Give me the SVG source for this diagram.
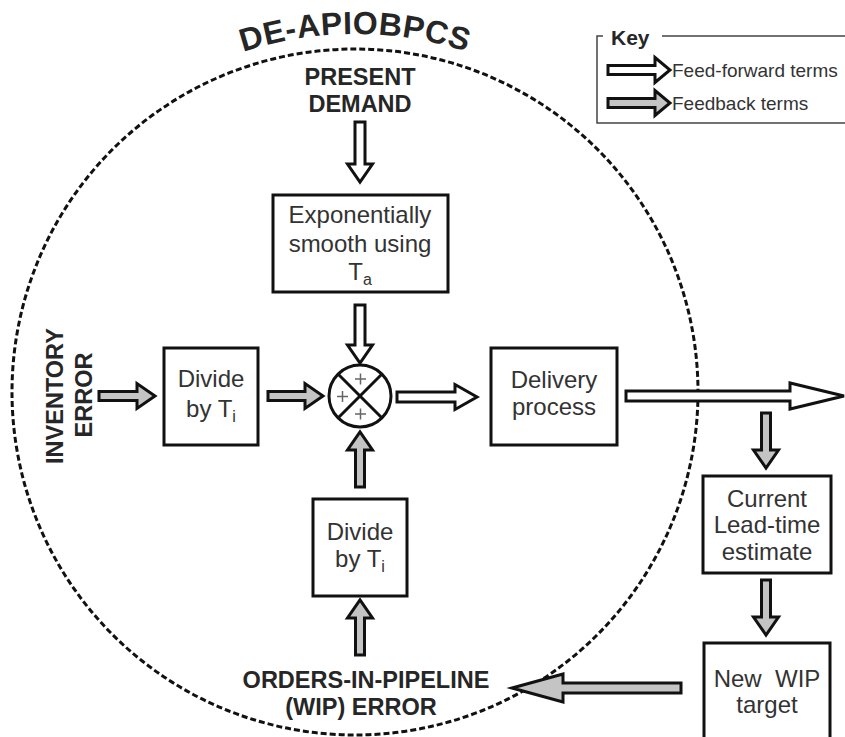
<svg xmlns="http://www.w3.org/2000/svg" width="845" height="737" viewBox="0 0 845 737">
  <defs>
    <style>
      .box { fill: #ffffff; stroke: #111111; stroke-width: 3; }
      .ff { fill: #ffffff; stroke: #111111; stroke-width: 3; stroke-linejoin: miter; }
      .fb { fill: #c4c4c4; stroke: #111111; stroke-width: 3; stroke-linejoin: miter; }
      .lbl { font-family: "Liberation Sans", Arial, sans-serif; font-size: 24px; fill: #333333; text-anchor: middle; }
      .sub { font-size: 16px; }
      .cap { font-family: "Liberation Sans", Arial, sans-serif; font-size: 23.5px; font-weight: bold; fill: #262626; text-anchor: middle; }
      .key { font-family: "Liberation Sans", Arial, sans-serif; font-size: 19px; fill: #333333; }
      .plus { stroke: #666666; stroke-width: 1.5; fill: none; }
    </style>
    <path id="titleArc" d="M -3,392 A 358,358 0 0 1 713,392"/>
  </defs>

  <rect width="845" height="737" fill="#ffffff"/>

  <!-- system boundary -->
  <circle cx="355" cy="392" r="343" fill="none" stroke="#111111" stroke-width="3" stroke-dasharray="6 3"/>
  <text font-family="Liberation Sans, Arial, sans-serif" font-size="32" font-weight="bold" fill="#262626" letter-spacing="0.5">
    <textPath href="#titleArc" startOffset="50%" text-anchor="middle">DE-APIOBPCS</textPath>
  </text>

  <!-- key -->
  <g id="key">
    <path d="M603,36 H597 V123 H845 M662,36 H845" fill="none" stroke="#444444" stroke-width="1.5"/>
    <text x="611" y="45" font-family="Liberation Sans, Arial, sans-serif" font-size="21" font-weight="bold" fill="#262626">Key</text>
    <path class="ff" d="M0,-4.5 H47 V-12.5 L62,0 L47,12.5 V4.5 H0 Z" transform="translate(608,70)"/>
    <text class="key" x="672" y="77">Feed-forward terms</text>
    <path class="fb" d="M0,-4.5 H47 V-12.5 L62,0 L47,12.5 V4.5 H0 Z" transform="translate(608,103)"/>
    <text class="key" x="672" y="110">Feedback terms</text>
  </g>

  <!-- external labels -->
  <g id="present-demand">
    <text class="cap" x="360" y="85">PRESENT</text>
    <text class="cap" x="360" y="112">DEMAND</text>
  </g>
  <g id="inventory-error">
    <text class="cap" transform="translate(63,396) rotate(-90)">INVENTORY</text>
    <text class="cap" transform="translate(92,395) rotate(-90)">ERROR</text>
  </g>
  <g id="wip-error">
    <text class="cap" x="366" y="688">ORDERS-IN-PIPELINE</text>
    <text class="cap" x="361" y="715">(WIP) ERROR</text>
  </g>

  <!-- blocks -->
  <g id="smooth">
    <rect class="box" x="273" y="195" width="175" height="97"/>
    <text class="lbl" x="360" y="223">Exponentially</text>
    <text class="lbl" x="360" y="252">smooth using</text>
    <text class="lbl" x="360" y="280">T<tspan class="sub" dy="5">a</tspan></text>
  </g>
  <g id="divide-inv">
    <rect class="box" x="164" y="348" width="94" height="97"/>
    <text class="lbl" x="211" y="387">Divide</text>
    <text class="lbl" x="211" y="417">by T<tspan class="sub" dy="5">i</tspan></text>
  </g>
  <g id="sum">
    <circle cx="360" cy="396" r="31" fill="#ffffff" stroke="#111111" stroke-width="3"/>
    <path d="M338,374 L382,418 M382,374 L338,418" stroke="#111111" stroke-width="3"/>
    <path class="plus" d="M355,379 H366 M360.5,373.5 V384.5 M337,396.5 H348 M342.5,391 V402 M355,414 H366 M360.5,408.5 V419.5"/>
  </g>
  <g id="delivery">
    <rect class="box" x="491" y="348" width="126" height="97"/>
    <text class="lbl" x="554" y="388">Delivery</text>
    <text class="lbl" x="554" y="415">process</text>
  </g>
  <g id="divide-wip">
    <rect class="box" x="313" y="499" width="94" height="97"/>
    <text class="lbl" x="360" y="540">Divide</text>
    <text class="lbl" x="360" y="567">by T<tspan class="sub" dy="5">i</tspan></text>
  </g>
  <g id="lead-time">
    <rect class="box" x="703" y="476" width="128" height="97"/>
    <text class="lbl" x="767" y="507">Current</text>
    <text class="lbl" x="767" y="533">Lead-time</text>
    <text class="lbl" x="767" y="560">estimate</text>
  </g>
  <g id="wip-target">
    <rect class="box" x="704" y="643" width="126" height="100"/>
    <text class="lbl" x="767" y="687" style="white-space:pre">New  WIP</text>
    <text class="lbl" x="767" y="713">target</text>
  </g>

  <!-- connectors: block arrows drawn pointing along +x, then placed -->
  <g id="connectors">
    <path class="ff" d="M0,-5 H42 V-12.5 L60,0 L42,12.5 V5 H0 Z" transform="translate(360,122) rotate(90)"/>
    <path class="ff" d="M0,-5 H40 V-12.5 L58,0 L40,12.5 V5 H0 Z" transform="translate(360,305) rotate(90)"/>
    <path class="fb" d="M0,-4.5 H38 V-12.5 L56,0 L38,12.5 V4.5 H0 Z" transform="translate(99,396)"/>
    <path class="fb" d="M0,-4.5 H37 V-12.5 L55,0 L37,12.5 V4.5 H0 Z" transform="translate(268,396)"/>
    <path class="ff" d="M0,-5 H58 V-12.5 L80,0 L58,12.5 V5 H0 Z" transform="translate(397,397)"/>
    <path class="ff" d="M0,-5 H164 V-13 L218,0 L164,13 V5 H0 Z" transform="translate(626,396)"/>
    <path class="fb" d="M0,-4.5 H37 V-12.5 L55,0 L37,12.5 V4.5 H0 Z" transform="translate(766,413) rotate(90)"/>
    <path class="fb" d="M0,-4.5 H37 V-12.5 L55,0 L37,12.5 V4.5 H0 Z" transform="translate(766,580) rotate(90)"/>
    <path class="fb" d="M0,-4.5 H37 V-12.5 L55,0 L37,12.5 V4.5 H0 Z" transform="translate(360,487) rotate(-90)"/>
    <path class="fb" d="M0,-4.5 H37 V-12.5 L55,0 L37,12.5 V4.5 H0 Z" transform="translate(360,655) rotate(-90)"/>
    <path class="fb" d="M0,-5 H118 V-14 L169,0 L118,14 V5 H0 Z" transform="translate(681,688) rotate(180)"/>
  </g>
</svg>
